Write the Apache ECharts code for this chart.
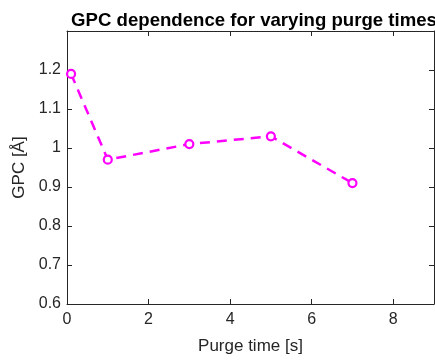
<!DOCTYPE html>
<html>
<head>
<meta charset="utf-8">
<script src="https://cdn.jsdelivr.net/npm/echarts@6/dist/echarts.min.js"></script>
<style>
  html, body { margin: 0; padding: 0; background: #fff; }
  #chart { width: 435px; height: 360px; }
</style>
</head>
<body>
<div id="chart"></div>
<script>
// Purge time (s) and measured growth per cycle (Å)
const purgeTimes = [0.1, 1, 3, 5, 7];
const gpcValues = [1.19, 0.97, 1.01, 1.03, 0.91];

const titleText = 'GPC dependence for varying purge times';
const xName = 'Purge time [s]';
const yName = 'GPC [Å]';

const FONT = 'Liberation Sans, Arial, Helvetica, sans-serif';
const AXIS_COLOR = '#262626';

const chart = echarts.init(document.getElementById('chart'), null, { renderer: 'canvas' });

const boxAxis = (extra) => Object.assign({
  axisLine: { show: true, onZero: false, lineStyle: { color: AXIS_COLOR, width: 1 } },
  axisTick: { show: true, inside: true, length: 5, lineStyle: { color: AXIS_COLOR, width: 1 } },
  splitLine: { show: false }
}, extra);

const xCommon = { type: 'value', min: 0, max: 9, interval: 2 };
const yCommon = { type: 'value', min: 0.6, max: 1.3, interval: 0.1 };

chart.setOption({
  backgroundColor: '#fff',
  animation: false,
  title: {
    text: titleText,
    left: 249,
    textAlign: 'center',
    top: 6,
    textStyle: { fontFamily: FONT, fontSize: 18.6, fontWeight: 'bold', color: '#000' }
  },
  grid: { left: 67, right: 1, top: 31, bottom: 55, containLabel: false },
  xAxis: [
    boxAxis(Object.assign({}, xCommon, {
      position: 'bottom',
      name: xName,
      nameLocation: 'middle',
      nameGap: 34,
      nameTextStyle: { fontFamily: FONT, fontSize: 17, color: AXIS_COLOR },
      axisLabel: {
        show: true, margin: 8, showMaxLabel: false,
        fontFamily: FONT, fontSize: 16, color: AXIS_COLOR,
        formatter: (v) => String(v)
      }
    })),
    boxAxis(Object.assign({}, xCommon, {
      position: 'top',
      axisLabel: { show: false }
    }))
  ],
  yAxis: [
    boxAxis(Object.assign({}, yCommon, {
      position: 'left',
      name: yName,
      nameLocation: 'middle',
      nameGap: 33,
      nameTextStyle: { fontFamily: FONT, fontSize: 17, color: AXIS_COLOR },
      axisLabel: {
        show: true, margin: 6, showMaxLabel: false,
        fontFamily: FONT, fontSize: 16, color: AXIS_COLOR,
        formatter: (v) => {
          const r = Math.round(v * 10) / 10;
          return r === 1 ? '1' : r.toFixed(1);
        }
      }
    })),
    boxAxis(Object.assign({}, yCommon, {
      position: 'right',
      axisLabel: { show: false }
    }))
  ],
  series: [{
    type: 'line',
    xAxisIndex: 0,
    yAxisIndex: 0,
    data: purgeTimes.map((t, i) => [t, gpcValues[i]]),
    symbol: 'circle',
    symbolSize: 8,
    showAllSymbol: true,
    lineStyle: { color: '#ff00ff', width: 2.5, type: [10, 7] },
    itemStyle: { color: '#ffffff', borderColor: '#ff00ff', borderWidth: 2.2 },
    emphasis: { disabled: true },
    z: 3
  }]
});
</script>
</body>
</html>
